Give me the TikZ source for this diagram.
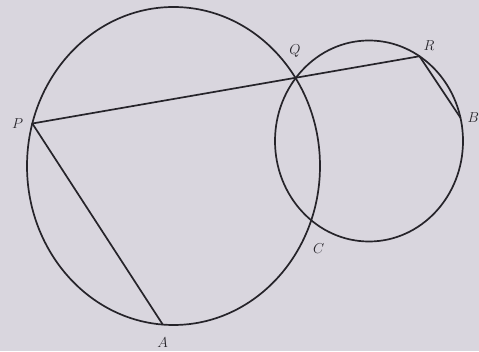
\documentclass[tikz,border=0pt]{standalone}
\usepackage{xcolor}
\usepackage{tikz}
\usetikzlibrary{positioning}

\definecolor{paper}{RGB}{217,214,222}
\definecolor{ink}{RGB}{38,36,42}

\begin{document}
\begin{tikzpicture}[
    x=1pt, y=1pt,
    curve/.style={draw=ink, line width=1.7pt},
    chord/.style={draw=ink, line width=1.7pt, line cap=round},
    lbl/.style={font=\fontsize{14}{14}\selectfont, text=ink, inner sep=1pt}
]

% Paper
\fill[paper] (0,0) rectangle (479,351);
\useasboundingbox (0,0) rectangle (479,351);

% Circles
\coordinate (o1) at (173.5,185);
\coordinate (o2) at (369,210);
\draw[curve] (o1) ellipse [x radius=146.5pt, y radius=159pt];
\draw[curve] (o2) ellipse [x radius=94pt, y radius=100.5pt];

% Points on the circles
\coordinate (P) at ([shift={(164.5:146.5pt and 159pt)}]o1);
\coordinate (Q) at ([shift={(34:146.5pt and 159pt)}]o1);
\coordinate (A) at ([shift={(265.8:146.5pt and 159pt)}]o1);
\coordinate (C) at ([shift={(-19:146.5pt and 159pt)}]o1);
\coordinate (R) at ([shift={(57.5:94pt and 100.5pt)}]o2);
\coordinate (B) at ([shift={(13.4:94pt and 100.5pt)}]o2);

% Chords
\draw[chord] (P) -- (R);
\draw[chord] (P) -- (A);
\draw[chord] (R) -- (B);

% Labels
\node[lbl, left=8pt of P] (lP) {$P$};
\node[lbl, above=19pt of Q] (lQ) {$Q$};
\node[lbl, above right=5pt and 3pt of R] (lR) {$R$};
\node[lbl, right=6pt of B] (lB) {$B$};
\node[lbl, below right=25pt and 0pt of C] (lC) {$C$};
\node[lbl, below=12pt of A] (lA) {$A$};

\end{tikzpicture}
\end{document}
